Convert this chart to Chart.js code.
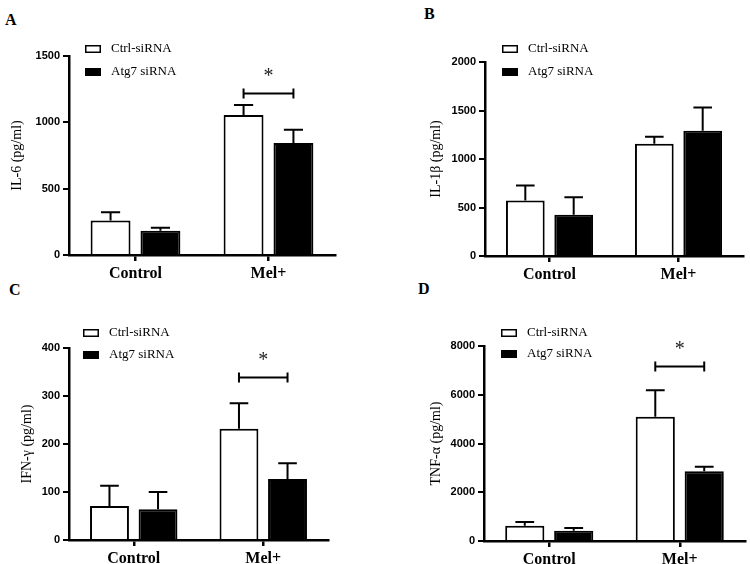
<!DOCTYPE html>
<html><head><meta charset="utf-8">
<script src="https://cdn.jsdelivr.net/npm/chart.js@4.4.1/dist/chart.umd.min.js"></script>
<style>
body{margin:0;background:#fff;width:750px;height:564px;overflow:hidden;position:relative}
canvas{position:absolute}
.lbl{position:absolute;font:bold 16px "Liberation Serif",serif;line-height:16px;color:#000}
</style></head><body>
<div class="lbl" style="left:5px;top:12px">A</div>
<div class="lbl" style="left:424px;top:6px">B</div>
<div class="lbl" style="left:9px;top:282px">C</div>
<div class="lbl" style="left:418px;top:281px">D</div>
<canvas id="cA" width="375" height="282" style="left:0;top:0"></canvas>
<canvas id="cB" width="375" height="282" style="left:375px;top:0"></canvas>
<canvas id="cC" width="375" height="282" style="left:0;top:282px"></canvas>
<canvas id="cD" width="375" height="282" style="left:375px;top:282px"></canvas>
<script>
// ---- data ----
const categories = ['Control', 'Mel+'];
const seriesNames = ['Ctrl-siRNA', 'Atg7 siRNA'];

const il6Ctrl = [260, 1055];   const il6CtrlErr = [62, 76];
const il6Atg7 = [183, 844];    const il6Atg7Err = [23, 101];
const il6Ticks = [0, 500, 1000, 1500];
const il6Sig = 1219;

const il1bCtrl = [571, 1157];  const il1bCtrlErr = [155, 72];
const il1bAtg7 = [424, 1291];  const il1bAtg7Err = [182, 241];
const il1bTicks = [0, 500, 1000, 1500, 2000];
const il1bSig = null;

const ifngCtrl = [71, 232];    const ifngCtrlErr = [42, 53];
const ifngAtg7 = [64, 127];    const ifngAtg7Err = [36, 33];
const ifngTicks = [0, 100, 200, 300, 400];
const ifngSig = 340;

const tnfaCtrl = [629, 5100];  const tnfaCtrlErr = [151, 1083];
const tnfaAtg7 = [424, 2860];  const tnfaAtg7Err = [109, 189];
const tnfaTicks = [0, 2000, 4000, 6000, 8000];
const tnfaSig = 7180;

const yTitles = ['IL-6 (pg/ml)', 'IL-1\u03B2 (pg/ml)', 'IFN-\u03B3 (pg/ml)', 'TNF-\u03B1 (pg/ml)'];

// ---- drawing ----
const annot = {
  id: 'annot',
  afterDatasetsDraw(chart, args, opts) {
    const ctx = chart.ctx, y = chart.scales.y;
    ctx.save();
    ctx.strokeStyle = '#000'; ctx.lineWidth = 2;
    chart.data.datasets.forEach((ds, di) => {
      const meta = chart.getDatasetMeta(di);
      meta.data.forEach((bar, i) => {
        const top = y.getPixelForValue(ds.data[i] + ds.errors[i]);
        const cap = bar.width * 0.24;
        ctx.beginPath();
        ctx.moveTo(bar.x, bar.y); ctx.lineTo(bar.x, top);
        ctx.moveTo(bar.x - cap, top); ctx.lineTo(bar.x + cap, top);
        ctx.stroke();
      });
    });
    if (opts.sig != null) {
      const b0 = chart.getDatasetMeta(0).data[1], b1 = chart.getDatasetMeta(1).data[1];
      const yy = Math.round(y.getPixelForValue(opts.sig)) + 0.5;
      ctx.beginPath();
      ctx.moveTo(b0.x, yy); ctx.lineTo(b1.x, yy);
      ctx.moveTo(b0.x, yy - 5); ctx.lineTo(b0.x, yy + 5);
      ctx.moveTo(b1.x, yy - 5); ctx.lineTo(b1.x, yy + 5);
      ctx.stroke();
      ctx.fillStyle = '#222';
      ctx.font = '20px "Liberation Serif", serif';
      ctx.textAlign = 'center'; ctx.textBaseline = 'alphabetic';
      ctx.fillText('*', (b0.x + b1.x) / 2, yy - 12);
    }
    // legend
    const L = opts.legend;
    ctx.font = '13px "Liberation Serif", serif';
    ctx.textAlign = 'left'; ctx.textBaseline = 'middle';
    chart.data.datasets.forEach((ds, di) => {
      const cy = L.y[di];
      ctx.fillStyle = ds.backgroundColor;
      ctx.fillRect(L.x, cy - 4, 16, 8);
      ctx.lineWidth = 1.5; ctx.strokeStyle = '#000';
      ctx.strokeRect(L.x + 0.75, cy - 4 + 0.75, 14.5, 6.5);
      ctx.fillStyle = '#000';
      ctx.fillText(ds.label, L.x + 26, cy);
    });
    ctx.restore();
  }
};

function makeChart(id, p) {
  const tk = p.ticks;
  return new Chart(document.getElementById(id), {
    type: 'bar',
    data: {
      labels: categories,
      datasets: [
        { label: seriesNames[0], data: p.ctrl, errors: p.ctrlErr, backgroundColor: '#ffffff',
          borderColor: '#000', borderWidth: 2, categoryPercentage: 0.75, barPercentage: 0.8 },
        { label: seriesNames[1], data: p.atg, errors: p.atgErr, backgroundColor: '#000000',
          borderColor: '#000', borderWidth: 2, categoryPercentage: 0.75, barPercentage: 0.8 }
      ]
    },
    options: {
      responsive: false, animation: false, devicePixelRatio: 1,
      layout: { padding: { left: 0, top: p.area.top, right: p.area.rightPad, bottom: 0 } },
      plugins: { legend: { display: false }, tooltip: { enabled: false },
        annot: { sig: p.sig, legend: p.legend } },
      scales: {
        x: {
          ticks: { font: { family: 'Liberation Serif', weight: 'bold', size: 16 }, color: '#000', padding: 3, maxRotation: 0 },
          grid: { offset: false, drawOnChartArea: false, drawTicks: true, tickLength: 6, lineWidth: 2.5, color: '#000' },
          border: { display: true, width: 2.5, color: '#000' },
          afterFit: s => { s.height = 282 - p.area.bottom; }
        },
        y: {
          min: tk[0], max: tk[tk.length - 1],
          ticks: { stepSize: tk[1] - tk[0], callback: v => String(v),
            font: { family: 'Liberation Sans', weight: 'bold', size: 11 }, color: '#000', padding: 3 },
          grid: { drawOnChartArea: false, drawTicks: true, tickLength: 6, lineWidth: 2, color: '#000' },
          border: { display: true, width: 2.5, color: '#000' },
          title: { display: true, text: p.title, color: '#000', font: { family: 'Liberation Serif', size: 14 }, padding: { top: p.titleX - 8.4, bottom: 0 } },
          afterFit: s => { s.width = p.area.left; }
        }
      }
    },
    plugins: [annot]
  });
}

makeChart('cA', { ctrl: il6Ctrl, ctrlErr: il6CtrlErr, atg: il6Atg7, atgErr: il6Atg7Err, ticks: il6Ticks, sig: il6Sig,
  title: yTitles[0], titleX: 17, area: { left: 69, top: 56, rightPad: 40, bottom: 255 }, legend: { x: 85, y: [49, 72] } });
makeChart('cB', { ctrl: il1bCtrl, ctrlErr: il1bCtrlErr, atg: il1bAtg7, atgErr: il1bAtg7Err, ticks: il1bTicks, sig: il1bSig,
  title: yTitles[1], titleX: 61, area: { left: 110, top: 62, rightPad: 7, bottom: 256 }, legend: { x: 127, y: [49, 72] } });
makeChart('cC', { ctrl: ifngCtrl, ctrlErr: ifngCtrlErr, atg: ifngAtg7, atgErr: ifngAtg7Err, ticks: ifngTicks, sig: ifngSig,
  title: yTitles[2], titleX: 27, area: { left: 69, top: 66, rightPad: 47, bottom: 258 }, legend: { x: 83, y: [51, 73] } });
makeChart('cD', { ctrl: tnfaCtrl, ctrlErr: tnfaCtrlErr, atg: tnfaAtg7, atgErr: tnfaAtg7Err, ticks: tnfaTicks, sig: tnfaSig,
  title: yTitles[3], titleX: 61, area: { left: 109, top: 64, rightPad: 5, bottom: 259 }, legend: { x: 126, y: [51, 72] } });
</script>
</body></html>
